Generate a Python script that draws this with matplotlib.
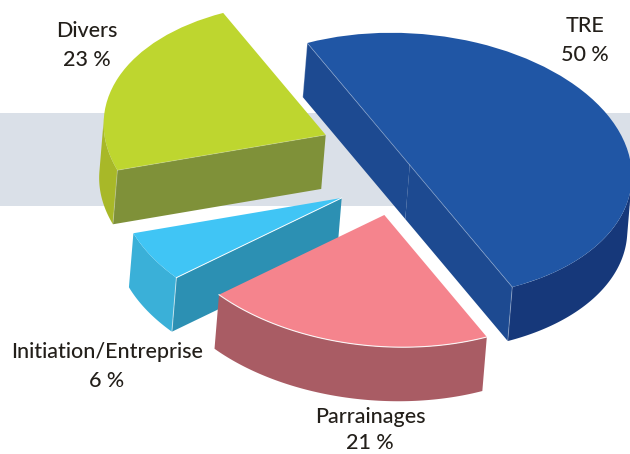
import numpy as np
import matplotlib
matplotlib.use("Agg")
import matplotlib.pyplot as plt
from matplotlib.patches import Wedge, Polygon
from matplotlib.transforms import Affine2D

# data
categories = ["Parrainages", "Initiation/Entreprise", "Divers", "TRE"]
shares = [21, 6, 23, 50]
value_labels = ["21 %", "6 %", "23 %", "50 %"]

# style
top_colors = ["#f5848d", "#40c5f5", "#bed62f", "#2056a5"]
wall_colors = ["#a95c64", "#2c90b3", "#7f9139", "#1d4a91"]
rim_colors = ["#a95c64", "#3ab0d8", "#a8b828", "#16387a"]
edge_alpha = [0.9, 0.95, 0.2, 0.25]
vert_alpha = [0.4, 0.6, 0.25, 0.3]
explode_a = [0.323, 0.134, -0.318, 0.031]
explode_b = [0.070, 0.188, 0.034, -0.211]
label_pos = [(370, 417), (107, 352), (87, 31), (585, 26)]
value_gap = [26, 29, 29, 29]
draw_order = [3, 2, 1, 0]
depth = np.array([0.356, 0.208])      # extrusion in pie-plane units
FONT = "Lato"
FS = 15.5
TXT = "#231f1a"

fig = plt.figure(figsize=(6.30, 4.54), dpi=100)
ax = fig.add_axes([0, 0, 1, 1])
ax.set_xlim(0, 630)
ax.set_ylim(454, 0)
ax.axis("off")
ax.axhspan(113, 206, color="#dae0e8", lw=0, zorder=0)

# pie plane -> pixel projection
proj = Affine2D.from_values(102.5, 122, -197, 51, 365, 172) + ax.transData

edges = np.cumsum([0] + shares) / sum(shares) * 360
z = 1
for i in draw_order:
    t1, t2 = edges[i], edges[i + 1]
    apex = np.array([explode_a[i], explode_b[i]])
    d = np.degrees(np.arctan2(depth[1], depth[0]))

    # rim: visible part of the arc, where the outward normal faces the viewer
    for shift in (-360, 0):
        lo, hi = max(t1 + shift, d - 90), min(t2 + shift, d + 90)
        if hi > lo:
            th = np.radians(np.linspace(lo, hi, 80))
            arc = apex + np.c_[np.cos(th), np.sin(th)]
            ax.add_patch(Polygon(np.r_[arc, (arc + depth)[::-1]], closed=True, fc=rim_colors[i],
                                 ec="none", transform=proj, zorder=z))
            ax.plot(arc[:, 0], arc[:, 1], color="#ffffff", alpha=edge_alpha[i] if i == 0 else 0.0,
                    lw=0.8, transform=proj, zorder=z + 0.4)
    # radial walls that face the viewer
    for t, nrm in ((t1, t1 - 90), (t2, t2 + 90)):
        if np.cos(np.radians(nrm - d)) > 0:
            e = apex + [np.cos(np.radians(t)), np.sin(np.radians(t))]
            ax.add_patch(Polygon([apex, e, e + depth, apex + depth], closed=True, fc=wall_colors[i],
                                 ec="none", transform=proj, zorder=z + 0.1))
            ax.plot([e[0], (e + depth)[0]], [e[1], (e + depth)[1]], color="#ffffff", alpha=vert_alpha[i],
                    lw=0.7, transform=proj, zorder=z + 0.2)
            ax.plot([apex[0], e[0]], [apex[1], e[1]], color="#ffffff", alpha=edge_alpha[i],
                    lw=0.7, transform=proj, zorder=z + 0.4)
    ax.add_patch(Wedge(apex, 1, t1, t2, fc=top_colors[i], ec="none", transform=proj, zorder=z + 0.3))
    z += 1

for name, val, (x, y), gap in zip(categories, value_labels, label_pos, value_gap):
    ax.text(x, y, name, ha="center", va="center", family=FONT, fontsize=FS, weight="medium", color=TXT, zorder=20)
    ax.text(x, y + gap, val, ha="center", va="center", family=FONT, fontsize=FS, weight="medium", color=TXT, zorder=20)

fig.savefig("out.png", dpi=100)
